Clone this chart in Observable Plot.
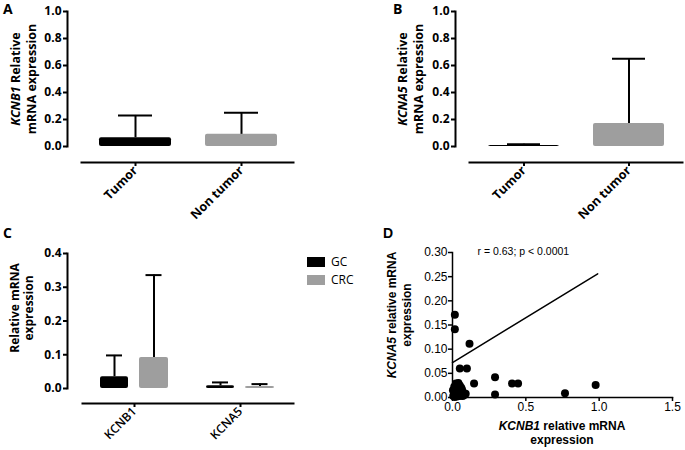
<!DOCTYPE html>
<html><head><meta charset="utf-8">
<script src="https://cdn.jsdelivr.net/npm/d3@7"></script>
<script src="https://cdn.jsdelivr.net/npm/@observablehq/plot@0.6"></script>
<style>
body{margin:0;background:#fff;}
#chart{position:relative;width:685px;height:450px;overflow:hidden;background:#fff;}
#chart > *{position:absolute;margin:0;}
</style></head><body><div id="chart"></div>
<script>
// ---------- Panel A & B : Tumor vs Non tumor ----------
const groupsAB = ["Tumor", "Non tumor"];
const kcnb1Mean = [0.065, 0.09];
const kcnb1Upper = [0.23, 0.25];
const kcna5Mean = [0.007, 0.17];
const kcna5Upper = [0.017, 0.65];
const ticksAB = [0, 0.2, 0.4, 0.6, 0.8, 1.0];
// ---------- Panel C : GC vs CRC ----------
const genesC = ["KCNB1", "KCNA5"];
const cancerTypes = ["GC", "CRC"];
const gcMean = [0.035, 0.008];
const gcUpper = [0.098, 0.018];
const crcMean = [0.092, 0.006];
const crcUpper = [0.336, 0.013];
const ticksC = [0, 0.1, 0.2, 0.3, 0.4];
// ---------- Panel D : correlation ----------
const scatterX = [0.016, 0.016, 0.116, 0.05, 0.098, 0.023, 0.147, 0.29, 0.29, 0.406, 0.447, 0.767, 0.976,
  0.005, 0.01, 0.015, 0.02, 0.025, 0.03, 0.035, 0.04, 0.045, 0.05, 0.055, 0.06, 0.065, 0.07, 0.075, 0.08, 0.09,
  0.003, 0.04, 0.05, 0.06, 0.012, 0.03];
const scatterY = [0.171, 0.141, 0.111, 0.06, 0.06, 0.029, 0.029, 0.042, 0.006, 0.029, 0.029, 0.009, 0.026,
  0.003, 0.008, 0.001, 0.012, 0.005, 0.002, 0.015, 0.008, 0.02, 0.003, 0.012, 0.006, 0.016, 0.003, 0.01, 0.005, 0.008,
  0.015, 0.03, 0.025, 0.02, 0.022, 0.018];
const fitX = [0, 0.99];
const fitY = [0.072, 0.256];
const ticksDX = [0, 0.5, 1.0, 1.5];
const ticksDY = [0, 0.05, 0.10, 0.15, 0.20, 0.25, 0.30];
const statText = "r = 0.63; p < 0.0001";
// ---------- text ----------
const panelLetters = ["A", "B", "C", "D"];
const labelA = [["KCNB1", " Relative"], ["", "mRNA expression"]];
const labelB = [["KCNA5", " Relative"], ["", "mRNA expression"]];
const labelC = [["", "Relative mRNA"], ["", "expression"]];
const labelDY = [["KCNA5", " relative mRNA"], ["", "expression"]];
const labelDX = [["KCNB1", " relative mRNA"], ["", "expression"]];
const barColors = ["#000000", "#9e9e9e"];

const chart = document.getElementById("chart");
const fontABC = "'Open Sans', sans-serif";
const fontD = "'Liberation Sans', Arial, sans-serif";

function place(el, left, top) { el.style.left = left + "px"; el.style.top = top + "px"; chart.appendChild(el); return el; }

function addLines(svg, lines, {rotate = false, x, y, step, size, weight = "bold", family}) {
  const s = d3.select(svg);
  lines.forEach((ln, i) => {
    const px = rotate ? x + i * step : x;
    const py = rotate ? y : y + i * step;
    const t = s.append("text")
      .attr("transform", `translate(${px},${py})` + (rotate ? " rotate(-90)" : ""))
      .attr("text-anchor", "middle")
      .attr("font-size", size).attr("font-weight", weight).attr("font-family", family).attr("fill", "#000");
    if (ln[0]) t.append("tspan").attr("font-style", "italic").text(ln[0]);
    t.append("tspan").text(ln[1]);
  });
}
function addLetter(svg, letter, x, y, family) {
  d3.select(svg).append("text").attr("x", x).attr("y", y).attr("text-anchor", "start")
    .attr("font-size", 14).attr("font-weight", "bold").attr("font-family", family).attr("fill", "#000").text(letter);
}

function tumorPanel(means, uppers, opts) {
  const data = groupsAB.map((g, i) => ({group: g, mean: means[i], upper: uppers[i]}));
  return Plot.plot({
    width: opts.width, height: 220,
    marginLeft: opts.ml, marginRight: opts.mr, marginTop: 11, marginBottom: 58,
    style: {fontFamily: fontABC, fontSize: "12px", fontWeight: "bold", color: "#000", background: "transparent", overflow: "visible"},
    x: {type: "band", domain: groupsAB, range: opts.xRange, paddingInner: 0.324, paddingOuter: opts.po, axis: null},
    y: {domain: [0, 1], range: [146, 11], axis: null},
    color: {domain: groupsAB, range: barColors},
    marks: [
      Plot.barY(data, {x: "group", y: "mean", fill: "group", rx: 2}),
      Plot.ruleX(data, {x: "group", y1: "mean", y2: "upper", strokeWidth: 2}),
      Plot.tickY(data, {x: "group", y: "upper", strokeWidth: 2, insetLeft: 19, insetRight: 19}),
      Plot.frame({anchor: "left", insetBottom: 16, strokeWidth: 2}),
      Plot.frame({anchor: "bottom", insetLeft: 14, strokeWidth: 2}),
      Plot.axisY({ticks: ticksAB, tickFormat: d3.format(".1f"), tickSize: 4, tickPadding: 2, strokeWidth: 2, label: null}),
      Plot.axisX({tickSize: 4, tickRotate: -45, tickPadding: 2, strokeWidth: 2, label: null, fontSize: 12.5})
    ]
  });
}

// Panel A
const plotA = tumorPanel(kcnb1Mean, kcnb1Upper, {width: 340, ml: 67, mr: 47, xRange: [82, 293], po: 0.155});
addLines(plotA, labelA, {rotate: true, x: 20, y: 79, step: 16, size: 12.5, family: fontABC});
addLetter(plotA, panelLetters[0], 3, 14, fontABC);
place(plotA, 0, 0);

// Panel B
const plotB = tumorPanel(kcna5Mean, kcna5Upper, {width: 345, ml: 115, mr: 3, xRange: [129, 342], po: 0.17});
addLines(plotB, labelB, {rotate: true, x: 67, y: 79, step: 16, size: 12.5, family: fontABC});
addLetter(plotB, panelLetters[1], 53, 14, fontABC);
place(plotB, 340, 0);

// Panel C
const dataC = genesC.flatMap((g, i) => [
  {gene: g, type: "GC", mean: gcMean[i], upper: gcUpper[i]},
  {gene: g, type: "CRC", mean: crcMean[i], upper: crcUpper[i]}
]);
const gcData = dataC.filter(d => d.type === "GC");
const crcData = dataC.filter(d => d.type === "CRC");
const plotC = Plot.plot({
  width: 340, height: 230,
  marginLeft: 67, marginRight: 47, marginTop: 33, marginBottom: 47,
  style: {fontFamily: fontABC, fontSize: "12px", fontWeight: "bold", color: "#000", background: "transparent", overflow: "visible"},
  x: {type: "band", domain: genesC, range: [82, 293], paddingInner: 0.245, paddingOuter: 0.113, axis: null},
  y: {domain: [0, 0.4], range: [168, 33], axis: null},
  color: {domain: cancerTypes, range: barColors},
  marks: [
    Plot.barY(gcData, {x: "gene", y: "mean", fill: "type", rx: 2, insetLeft: 6, insetRight: 46}),
    Plot.barY(crcData, {x: "gene", y: "mean", fill: "type", rx: 2, insetLeft: 45, insetRight: 6}),
    Plot.ruleX(gcData, {x: "gene", y1: "mean", y2: "upper", strokeWidth: 2, dx: -20}),
    Plot.ruleX(crcData, {x: "gene", y1: "mean", y2: "upper", strokeWidth: 2, dx: 19.5}),
    Plot.tickY(gcData, {x: "gene", y: "upper", strokeWidth: 2, insetLeft: 12, insetRight: 52}),
    Plot.tickY(crcData, {x: "gene", y: "upper", strokeWidth: 2, insetLeft: 51.5, insetRight: 12.5}),
    Plot.frame({anchor: "left", insetBottom: 15, strokeWidth: 2}),
    Plot.frame({anchor: "bottom", insetLeft: 15, strokeWidth: 2}),
    Plot.axisY({ticks: ticksC, tickFormat: d3.format(".1f"), tickSize: 4, tickPadding: 2, strokeWidth: 2, label: null}),
    Plot.axisX({tickSize: 4, tickRotate: -45, tickPadding: 2, strokeWidth: 2, fontWeight: 600, label: null})
  ]
});
addLines(plotC, labelC, {rotate: true, x: 19, y: 88, step: 14, size: 12, family: fontABC});
addLetter(plotC, panelLetters[2], 3, 18, fontABC);
place(plotC, 0, 220);

const legendC = Plot.legend({
  color: {type: "categorical", domain: cancerTypes, range: barColors},
  legend: "swatches", columns: 1, swatchWidth: 18, swatchHeight: 10,
  style: {fontFamily: fontABC, fontSize: "12px", color: "#000", background: "transparent"}
});
place(legendC, 307, 253);

// Panel D
const dataD = scatterX.map((x, i) => ({x, y: scatterY[i]}));
const fitD = fitX.map((x, i) => ({x, y: fitY[i]}));
const plotD = Plot.plot({
  width: 305, height: 230,
  marginLeft: 72, marginRight: 13, marginTop: 32, marginBottom: 53,
  style: {fontFamily: fontD, fontSize: "12px", color: "#000", background: "transparent", overflow: "visible"},
  x: {domain: [0, 1.5], axis: null},
  y: {domain: [0, 0.3], axis: null},
  marks: [
    Plot.frame({anchor: "left", strokeWidth: 1.5}),
    Plot.frame({anchor: "bottom", strokeWidth: 1.5}),
    Plot.axisY({ticks: ticksDY, tickFormat: d3.format(".2f"), tickSize: 4, tickPadding: 1, strokeWidth: 1.5, label: null}),
    Plot.axisX({ticks: ticksDX, tickFormat: d3.format(".1f"), tickSize: 4, tickPadding: 1, strokeWidth: 1.5, label: null}),
    Plot.line(fitD, {x: "x", y: "y", strokeWidth: 1.5}),
    Plot.dot(dataD, {x: "x", y: "y", r: 4, fill: "#000"}),
    Plot.text([statText], {text: d => d, frameAnchor: "top-left", dx: 25, dy: -5, textAnchor: "start", fontSize: 10.5})
  ]
});
addLines(plotD, labelDY, {rotate: true, x: 16, y: 95, step: 15, size: 12, family: fontD});
addLines(plotD, labelDX, {rotate: false, x: 182, y: 210, step: 14, size: 12, family: fontD});
addLetter(plotD, panelLetters[3], 3, 18, fontD);
place(plotD, 380, 220);
</script></body></html>
